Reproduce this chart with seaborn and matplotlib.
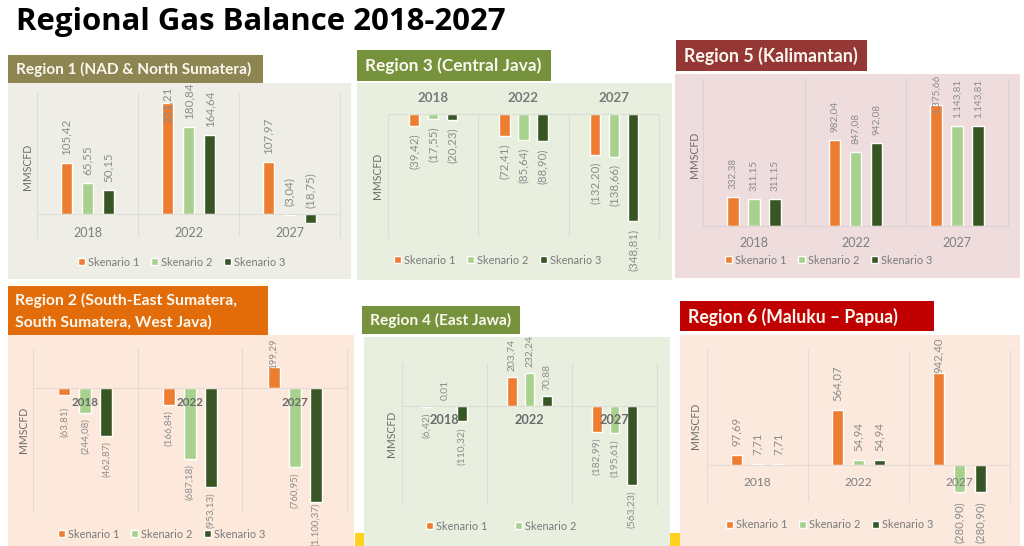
import matplotlib
matplotlib.use("Agg")
import matplotlib.pyplot as plt
from matplotlib.colors import to_rgb
from matplotlib.patches import Rectangle
import pandas as pd
import seaborn as sns

W, H = 1024, 546

# ---- data -----------------------------------------------------------------
years = ["2018", "2022", "2027"]
scenarios = ["Skenario 1", "Skenario 2", "Skenario 3"]

r1_s1 = [105.42, 231.21, 107.97]
r1_s2 = [65.55, 180.84, -3.04]
r1_s3 = [50.15, 164.64, -18.75]

r2_s1 = [-63.81, -166.84, 199.29]
r2_s2 = [-244.08, -687.18, -760.95]
r2_s3 = [-462.87, -953.13, -1100.37]

r3_s1 = [-39.42, -72.41, -132.20]
r3_s2 = [-17.55, -85.64, -138.66]
r3_s3 = [-20.23, -88.90, -348.81]

r4_s1 = [-6.42, 203.74, -182.99]
r4_s2 = [0.01, 232.24, -195.61]
r4_s3 = [-110.32, 70.88, -563.23]

r5_s1 = [332.38, 982.04, 1375.66]
r5_s2 = [311.15, 847.08, 1143.81]
r5_s3 = [311.15, 942.08, 1143.81]

r6_s1 = [97.69, 564.07, 942.40]
r6_s2 = [7.71, 54.94, -280.90]
r6_s3 = [7.71, 54.94, -280.90]

colors = ["#ED7D31", "#A9D18E", "#375623"]

sns.set_theme(style="white")
plt.rcParams["font.family"] = ["Lato", "DejaVu Sans"]
plt.rcParams["axes.axisbelow"] = False

fig = plt.figure(figsize=(W / 100, H / 100), dpi=100, facecolor="white")


def fx(x):
    return x / W


def fy(y):
    return 1 - y / H


def box(x0, y0, x1, y1, color):
    fig.add_artist(Rectangle((fx(x0), fy(y1)), (x1 - x0) / W, (y1 - y0) / H,
                             transform=fig.transFigure, facecolor=color,
                             edgecolor="none", zorder=-1))


def fmt(v):
    s = f"{abs(v):,.2f}".replace(",", "X").replace(".", ",").replace("X", ".")
    return f"({s})" if v < 0 else s


def panel(series, bg, rect, head, head_color, head_text, head_pos, head_size,
          ax_px, scale, width, gap, label_size, label_pad, year_pad, year_size,
          year_weight, year_color, legend_xy, ylabel_xy, n_legend=3, col_space=1.05,
          top_years=False, overrides=None):
    box(*rect, bg)
    box(*head, head_color)
    for (tx, ty, line) in zip(head_pos[0], head_pos[1], head_text):
        fig.text(fx(tx), fy(ty), line, color="#FBF8F0", fontweight="bold",
                 fontsize=head_size, ha="left", va="center")

    left, top, right, bottom, zero = ax_px
    ax = fig.add_axes([fx(left), fy(bottom), (right - left) / W, (bottom - top) / H],
                      facecolor="none")
    df = pd.DataFrame({
        "year": years * 3,
        "value": [v for s in series for v in s],
        "scenario": [n for n in scenarios for _ in years],
    })
    sns.barplot(data=df, x="year", y="value", hue="scenario", palette=colors,
                width=width, gap=gap, saturation=1, errorbar=None, ax=ax)
    ax.set_xlim(-0.5, 2.5)
    ax.set_ylim((zero - bottom) / scale, (zero - top) / scale)
    ax.set_yticks([])
    ax.set_xlabel("")

    grid_color = tuple(0.72 * b + 0.28 * g
                       for b, g in zip(to_rgb(bg), to_rgb("#B4B4B4")))
    for name in ("left", "right", "top", "bottom"):
        ax.spines[name].set_visible(False)
        ax.spines[name].set_linewidth(0.8)
    ax.spines["left"].set_visible(True)
    ax.spines["right"].set_visible(True)
    ax.spines["left"].set_color(grid_color)
    ax.spines["right"].set_color(grid_color)
    axis_spine = "top" if top_years else "bottom"
    ax.spines[axis_spine].set_visible(True)
    ax.spines[axis_spine].set_color(grid_color)
    if top_years:
        ax.xaxis.tick_top()
    else:
        ax.spines["bottom"].set_position(("data", 0))
    ax.set_xticks([0.5, 1.5], minor=True)
    ax.grid(which="minor", axis="x", color=grid_color, lw=0.8)
    ax.tick_params(axis="x", which="both", length=0)
    ax.tick_params(axis="x", which="major", pad=year_pad * 0.72,
                   labelsize=year_size, labelcolor=year_color)
    for t in ax.get_xticklabels():
        t.set_fontweight(year_weight)

    for s, cont in enumerate(ax.containers):
        anns = ax.bar_label(cont, labels=[fmt(v) for v in series[s]], rotation=90,
                            padding=label_pad * 0.72, fontsize=label_size,
                            color="#8C8C8C")
        for c, ann in enumerate(anns):
            if overrides and (s, c) in overrides:
                dy, va = overrides[(s, c)]
                ann.xyann = (0, dy * 0.72)
                ann.set_va(va)

    ax.set_ylabel("MMSCFD", fontsize=7.6, color="#6A6A6A")
    ax.yaxis.set_label_coords(fx(ylabel_xy[0] + 4), fy(ylabel_xy[1]),
                              transform=fig.transFigure)

    handles, labels = ax.get_legend_handles_labels()
    ax.legend(handles[:n_legend], labels[:n_legend], loc="center",
              bbox_to_anchor=(fx(legend_xy[0]), fy(legend_xy[1])),
              bbox_transform=fig.transFigure, ncol=n_legend, frameon=False,
              fontsize=7.9, labelcolor="#7A7A7A", handlelength=0.62,
              handleheight=0.62, handletextpad=0.3, columnspacing=col_space,
              borderpad=0, borderaxespad=0)
    return ax


fig.text(fx(16), fy(22), "Regional Gas Balance 2018-2027", fontsize=22.4,
         fontweight="bold", family=["Open Sans", "DejaVu Sans"], color="black",
         ha="left", va="center")

# soft yellow remnants along the slide edges
box(8, 283, 268, 285, "#FFFBE2")
box(355, 533, 364, 546, "#FFD21F")
box(670, 533, 680, 546, "#FFD21F")

panel([r1_s1, r1_s2, r1_s3], "#EEEEE6", (8, 83, 351, 279), (8, 55, 263, 83), "#8E8652",
      ["Region 1 (NAD & North Sumatera)"], ([16], [69]), 11.1,
      (37, 93, 340, 237, 214), 0.48, 0.63, 0.46, 8.4, 8, 13, 9, "normal", "#7F7F7F",
      (182, 262), (29, 167),
      overrides={(0, 1): (-20, "bottom"), (1, 2): (9, "bottom"), (2, 2): (15, "bottom")})

panel([r2_s1, r2_s2, r2_s3], "#FCE9DB", (8, 335, 354, 546), (8, 286, 268, 335), "#E36C0A",
      ["Region 2 (South-East Sumatera,", "South Sumatera, West Java)"],
      ([15, 15], [300, 322]), 11.3,
      (33, 348, 347, 512, 388), 0.104, 0.6, 0.42, 7, 5, 9, 8.4, "bold", "#6A6A6A",
      (162, 534), (25, 430),
      overrides={(0, 0): (-12, "top"), (0, 2): (-2, "bottom"), (2, 2): (0, "top")})

panel([r3_s1, r3_s2, r3_s3], "#E9EFDF", (357, 83, 672, 280), (357, 50, 551, 81), "#76923C",
      ["Region 3 (Central Java)"], ([365], [66]), 12.4,
      (388, 114, 659, 237, 114), 0.308, 0.63, 0.46, 8.3, 7, 10, 9.6, "bold", "#7A7A7A",
      (498, 260), (379, 176), top_years=True)

panel([r4_s1, r4_s2, r4_s3], "#E9EFDF", (364, 337, 670, 546), (362, 306, 520, 334), "#76923C",
      ["Region 4 (East Jawa)"], ([370], [320]), 11.2,
      (402, 363, 657, 505, 406), 0.14, 0.62, 0.45, 7.4, 6, 8, 9.2, "bold", "#6A6A6A",
      (501, 526), (393, 434), n_legend=2, col_space=2.5)

panel([r5_s1, r5_s2, r5_s3], "#EFDDDD", (675, 74, 1020, 278), (676, 40, 867, 71), "#953735",
      ["Region 5 (Kalimantan)"], ([684], [56]), 12.8,
      (703, 78, 1008, 226, 226), 0.0877, 0.62, 0.45, 7.2, 8, 11, 9, "normal", "#7F7F7F",
      (829, 260), (696, 155),
      overrides={(0, 2): (-9, "bottom")})

panel([r6_s1, r6_s2, r6_s3], "#FBE9DD", (680, 335, 1020, 546), (680, 301, 934, 331), "#C00000",
      ["Region 6 (Maluku \u2013 Papua)"], ([688], [317]), 12.7,
      (707, 350, 1010, 502, 465), 0.0975, 0.62, 0.46, 8.2, 9, 12, 8.6, "normal", "#7F7F7F",
      (830, 525), (697, 426),
      overrides={(0, 2): (0, "bottom")})

fig.savefig("out.png", dpi=100)
